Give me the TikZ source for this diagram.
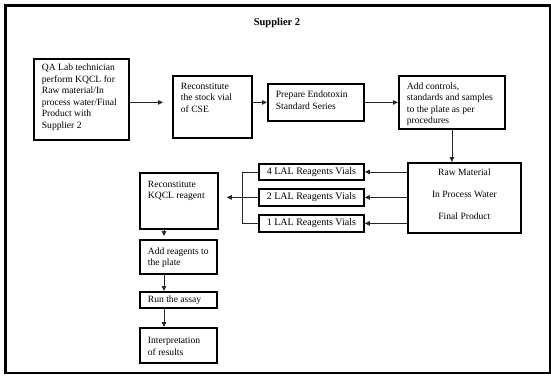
\documentclass[tikz,border=0pt]{standalone}
\usepackage{fontspec}
\setmainfont{Liberation Serif}
\usetikzlibrary{arrows.meta}

% text block inside a box: inner width, height, vertical position, top gap, text
\newcommand\boxtext[5]{\parbox[c][#2pt][#3]{#1pt}{\vspace*{#4pt}\raggedright\strut #5}}

\tikzset{
  box/.style={draw=black, line width=1.8pt, inner xsep=8pt, inner ysep=0pt,
    anchor=north west, font=\fontsize{9.6}{11.5}\selectfont},
  vial/.style={box, align=center, inner xsep=0pt, font=\fontsize{10}{12}\selectfont},
  link/.style={draw=black!85, line width=0.8pt},
  arr/.style={link, -{Triangle[length=5pt,width=4.5pt]}},
  frame/.style={line width=2.8pt},
}

\begin{document}
\begin{tikzpicture}[x=1pt, y=-1pt]
\useasboundingbox (0,0) rectangle (551,377);

% outer frame
\draw[frame] (5.5,5.5) rectangle (550,373);

\node[font=\fontsize{10.5}{12}\bfseries\selectfont] (title) at (277,23) {Supplier 2};

% top row
\node[box] (qa) at (33,58)
  {\boxtext{79}{81}{t}{4}{QA Lab technician\\perform KQCL for\\Raw material/In\\process water/Final\\Product with\\Supplier 2}};
\node[box] (recon) at (172,75)
  {\boxtext{63}{62}{t}{5.5}{Reconstitute\\the stock vial\\of CSE}};
\node[box] (prep) at (267,83)
  {\boxtext{80}{37}{t}{6}{Prepare Endotoxin\\Standard Series}};
\node[box] (add) at (398,75)
  {\boxtext{90}{53}{t}{5.5}{Add controls,\\standards and samples\\to the plate as per\\procedures}};

% sample types
\node[box, inner xsep=0pt] (raw) at (407,162)
  {\parbox[c][70pt][t]{113pt}{\centering\vspace*{4.5pt}\strut Raw Material\\[10.5pt]In Process Water\\[10.5pt]Final Product}};

% reagent vials
\node[vial, minimum width=105pt, minimum height=16pt] (lal4) at (258,163) {4 LAL Reagents Vials};
\node[vial, minimum width=105pt, minimum height=17pt] (lal2) at (258,188) {2 LAL Reagents Vials};
\node[vial, minimum width=105pt, minimum height=17pt] (lal1) at (258,214) {1 LAL Reagents Vials};

% assay column
\node[box] (kqcl) at (139,172)
  {\boxtext{62}{56}{t}{6.5}{Reconstitute\\KQCL reagent}};
\node[box] (addr) at (139,239)
  {\boxtext{61}{34}{c}{0}{Add reagents to\\the plate}};
\node[box] (run) at (139,291)
  {\boxtext{61}{16}{c}{0}{Run the assay}};
\node[box] (interp) at (139,327)
  {\boxtext{61}{35}{c}{0}{Interpretation\\of results}};

\coordinate (spine) at (164,0);
\coordinate (fork) at (242,0);

% connectors
\draw[arr, shorten >=9pt] (qa.east |- prep.center) -- (recon.west |- prep.center);
\draw[arr] (recon.east |- prep.center) -- (prep.west);
\draw[arr] (prep.east) -- (add.west |- prep.center);
\draw[arr] (add.south) -- (add.south |- raw.north);

\draw[arr] (raw.west |- lal4) -- (lal4.east);
\draw[arr] (raw.west |- lal2) -- (lal2.east);
\draw[arr] (raw.west |- lal1) -- (lal1.east);

\draw[link] (lal4.west) -- (lal4.west -| fork) -- (lal1.west -| fork) -- (lal1.west);
\draw[arr, shorten >=8pt] (lal2.west) -- (kqcl.east |- lal2);

\draw[arr, shorten >=3pt] (kqcl.south -| spine) -- (addr.north -| spine);
\draw[arr] (addr.south -| spine) -- (run.north -| spine);
\draw[arr] (run.south -| spine) -- (interp.north -| spine);
\end{tikzpicture}
\end{document}
